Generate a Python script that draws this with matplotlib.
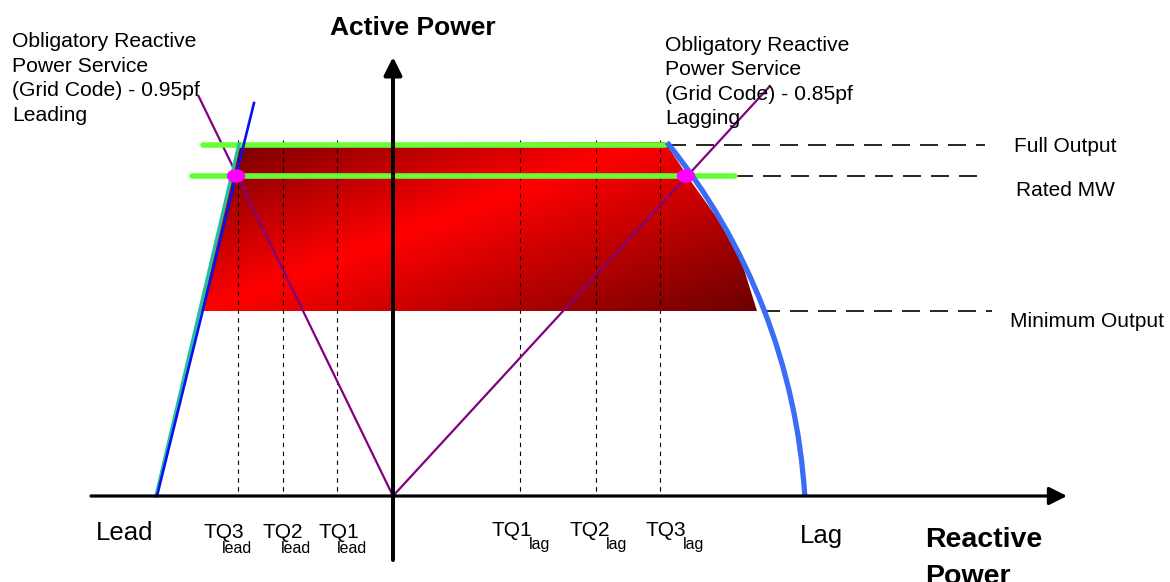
import numpy as np
import matplotlib
matplotlib.use('Agg')
import matplotlib.pyplot as plt
from matplotlib.patches import Polygon, Arc, Ellipse

plt.rcParams['font.family'] = ['Liberation Sans', 'DejaVu Sans']

# ---------------- data (x = reactive power, y = active power; origin at axes crossing) -------------
full_output = 351
rated_mw = 320
min_output = 185

tq_lead_q = [-155, -110, -56]
tq_lead_labels = ['TQ3', 'TQ2', 'TQ1']
tq_lag_q = [127, 203, 267]
tq_lag_labels = ['TQ1', 'TQ2', 'TQ3']
tq_top = 356

pf_point_q = [-157, 293]          # obligatory pf points at rated MW
pf_line_end_q = [-195, 377]       # pf lines from origin through these ends
pf_line_end_p = [401, 410]

lead_limit_q = [-236, -139]       # blue leading limit line
lead_limit_p = [0, 393]
lead_edge_q = [-237, -154]        # teal leading edge
lead_edge_p = [0, 352]

region_q = [-192, -153, 272, 297, 334, 344, 364]   # operating region (red)
region_p = [185, 352, 354, 316, 264, 249, 185]

lag_arc_center = (-211, -39)      # lagging capability arc
lag_arc_radius = 624
lag_arc_angles = (3.5, 39.0)

full_line_q = [-190, 272]
rated_line_q = [-201, 342]

ref_levels = [full_output, rated_mw, min_output]
ref_dash_start_q = [275, 342, 369]
ref_dash_end_q = [592, 592, 599]
ref_labels = ['Full Output', 'Rated MW', 'Minimum Output']

x_axis_q = [-302, 674]
y_axis_p = [-64, 439]

left_note = 'Obligatory Reactive\nPower Service\n(Grid Code) - 0.95pf\nLeading'
right_note = 'Obligatory Reactive\nPower Service\n(Grid Code) - 0.85pf\nLagging'

# ---------------- figure ----------------
fig = plt.figure(figsize=(11.7, 5.82), dpi=100)
ax = fig.add_axes([0, 0, 1, 1])
ax.set_xlim(-393, 777)
ax.set_ylim(-86, 496)
ax.axis('off')

# gradient-filled operating region
poly = Polygon(np.column_stack([region_q, region_p]), closed=True,
               facecolor='none', edgecolor='none', transform=ax.transData)
ax.add_patch(poly)
xmin, xmax = min(region_q), max(region_q)
ymin, ymax = min(region_p), max(region_p)
gx = np.linspace(xmin, xmax, 800)
gy = np.linspace(ymin, ymax, 300)
X, Y = np.meshgrid(gx, gy)
d = ((X + 163) * -150 + (Y - 196) * 390) / 418
t = np.where(d > 0, d / 141, -d / 199).clip(0, 1)
dark = np.where(d > 0, 0.48, 0.42)
img = np.zeros(X.shape + (3,))
img[..., 0] = 1 - t * (1 - dark)
im = ax.imshow(img, extent=(xmin, xmax, ymin, ymax), origin='lower',
               aspect='auto', zorder=1, interpolation='bilinear')
im.set_clip_path(poly)

# TQ dotted verticals
for q in tq_lead_q + tq_lag_q:
    ax.plot([q, q], [tq_top, 0], color='black', lw=0.8,
            linestyle=(0, (4, 4)), zorder=2)

# pf lines
for qe, pe in zip(pf_line_end_q, pf_line_end_p):
    ax.plot([0, qe], [0, pe], color='#800080', lw=1.6, zorder=3,
            solid_capstyle='butt')

# green output lines
ax.plot(full_line_q, [full_output] * 2, color='#66ff33', lw=4,
        solid_capstyle='round', zorder=4)
ax.plot(rated_line_q, [rated_mw] * 2, color='#66ff33', lw=4,
        solid_capstyle='round', zorder=4)

# reference dashed lines and labels
for lvl, qs, qe in zip(ref_levels, ref_dash_start_q, ref_dash_end_q):
    ax.plot([qs, qe], [lvl, lvl], color='black', lw=1.2,
            linestyle=(0, (10.8, 6)), zorder=2)

ax.text(621, 344, ref_labels[0], fontsize=15, va='baseline', ha='left')
ax.text(623, 300, ref_labels[1], fontsize=15, va='baseline', ha='left')
ax.text(617, 169, ref_labels[2], fontsize=15, va='baseline', ha='left')

# leading limit lines
ax.plot(lead_edge_q, lead_edge_p, color='#20c0a0', lw=2.4, zorder=5)
ax.plot(lead_limit_q, lead_limit_p, color='#0a10f0', lw=1.9, zorder=5)

# lagging capability arc
ax.add_patch(Arc(lag_arc_center, 2 * lag_arc_radius, 2 * lag_arc_radius,
                 theta1=lag_arc_angles[0], theta2=lag_arc_angles[1],
                 color='#3b6cf5', lw=3.8, zorder=5))

# pf points
for q in pf_point_q:
    ax.add_patch(Ellipse((q, rated_mw), 17, 12, color='#ff00ff', zorder=7))

# axes with arrows
ax.annotate('', xy=(x_axis_q[1], 0), xytext=(x_axis_q[0], 0),
            arrowprops=dict(arrowstyle='-|>', lw=2.3, color='black',
                            mutation_scale=27, shrinkA=0, shrinkB=0),
            zorder=6)
ax.annotate('', xy=(0, y_axis_p[1]), xytext=(0, y_axis_p[0]),
            arrowprops=dict(arrowstyle='-|>', lw=2.9, color='black',
                            mutation_scale=27, shrinkA=0, shrinkB=0),
            zorder=6)

# titles
ax.text(-63, 461, 'Active Power', fontsize=19, fontweight='bold',
        va='baseline', ha='left')
ax.text(532, -51, 'Reactive', fontsize=20.5, fontweight='bold',
        va='baseline', ha='left')
ax.text(532, -88, 'Power', fontsize=20.5, fontweight='bold',
        va='baseline', ha='left')
ax.text(-297, -44, 'Lead', fontsize=18.5, va='baseline', ha='left')
ax.text(407, -47, 'Lag', fontsize=18.5, va='baseline', ha='left')

# notes
ax.text(-381, 375.4, left_note, fontsize=15.2, va='baseline', ha='left',
        linespacing=1.36)
ax.text(272, 372, right_note, fontsize=15.2, va='baseline', ha='left',
        linespacing=1.36)

# TQ labels
lead_offsets = [-34, -20, -18]
for q, lab, off in zip(tq_lead_q, tq_lead_labels, lead_offsets):
    ax.text(q + off, -42, lab, fontsize=15, va='baseline', ha='left')
    ax.text(q + off + 18, -57, 'lead', fontsize=11.5, va='baseline', ha='left')
lag_offsets = [-28, -27, -14]
for q, lab, off in zip(tq_lag_q, tq_lag_labels, lag_offsets):
    ax.text(q + off, -40, lab, fontsize=15, va='baseline', ha='left')
    ax.text(q + off + 37, -53, 'lag', fontsize=11.5, va='baseline', ha='left')

fig.savefig('out.png', dpi=100)
